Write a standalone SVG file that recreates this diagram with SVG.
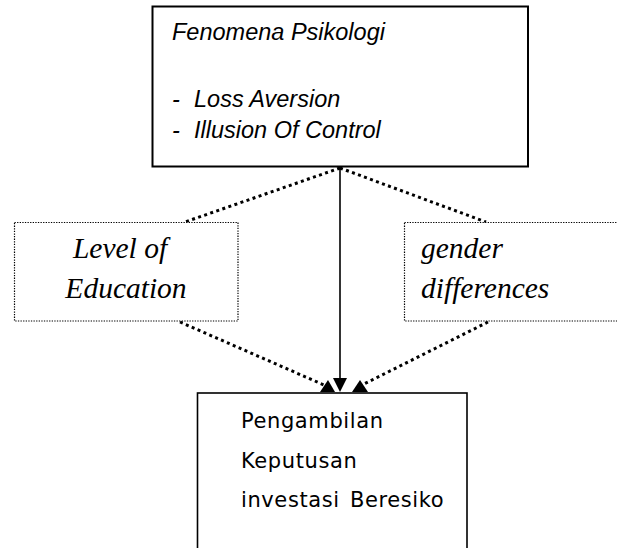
<svg xmlns="http://www.w3.org/2000/svg" width="617" height="548" viewBox="0 0 617 548">
<style>
.solid{fill:#fff;stroke:#000;stroke-width:2}
.dotbox{fill:#fff;stroke:#000;stroke-width:1.2;stroke-dasharray:1.3 1.3}
.dotline{fill:none;stroke:#000;stroke-width:3;stroke-dasharray:3 3.4}
.sans-i{font-family:"Liberation Sans",Arial,sans-serif;font-style:italic;font-size:23.5px;fill:#000}
.serif-i{font-family:"Liberation Serif","Times New Roman",serif;font-style:italic;font-size:29.5px;fill:#000}
.sans{font-family:"DejaVu Sans",Verdana,sans-serif;font-size:21px;letter-spacing:0.6px;fill:#000}
.head{fill:#000}
</style>
<rect width="617" height="548" fill="#fff"/>
<g id="connectors">
<line class="dotline" x1="340" y1="168" x2="185" y2="222"/>
<line class="dotline" x1="340" y1="168" x2="486" y2="222"/>
<line class="dotline" x1="180" y1="322" x2="324" y2="385"/>
<line class="dotline" x1="488" y1="322" x2="362" y2="385"/>
<line x1="340" y1="167" x2="340" y2="380" stroke="#000" stroke-width="1.6"/>
<polygon class="head" points="333,378 347,378 340,392"/>
<polygon class="head" points="320,392 335,392 328,380"/>
<polygon class="head" points="352,392 368,392 360,380"/>
</g>
<g id="node-fenomena">
<rect class="solid" x="152.5" y="6.5" width="375.5" height="160"/>
<text class="sans-i" x="172" y="40">Fenomena Psikologi</text>
<text class="sans-i" x="172" y="107">-</text>
<text class="sans-i" x="194" y="107">Loss Aversion</text>
<text class="sans-i" x="172" y="138">-</text>
<text class="sans-i" x="194" y="138">Illusion Of Control</text>
</g>
<g id="node-education">
<rect class="dotbox" x="14.5" y="222.5" width="223.5" height="98.5"/>
<text class="serif-i" x="120" y="258" text-anchor="middle">Level of</text>
<text class="serif-i" x="126" y="298" text-anchor="middle">Education</text>
</g>
<g id="node-gender">
<rect class="dotbox" x="404.5" y="222.5" width="230" height="98.5"/>
<text class="serif-i" x="421" y="258">gender</text>
<text class="serif-i" x="421" y="298">differences</text>
</g>
<g id="node-keputusan">
<rect fill="#fff" stroke="#000" stroke-width="1.6" x="197.5" y="393" width="269.5" height="170"/>
<text class="sans" x="241" y="428">Pengambilan</text>
<text class="sans" x="241" y="468">Keputusan</text>
<text class="sans" x="241" y="507" word-spacing="3">investasi Beresiko</text>
</g>
</svg>
